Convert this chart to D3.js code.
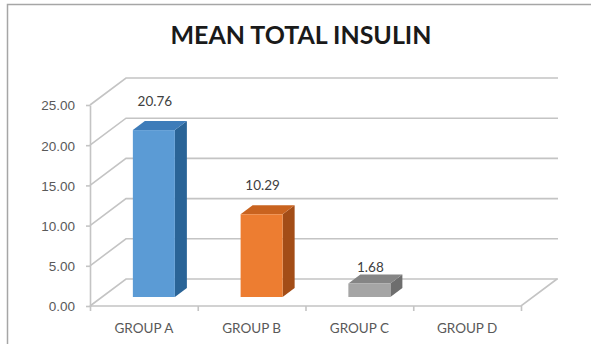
<!DOCTYPE html>
<html><head><meta charset="utf-8">
<script src="https://cdn.jsdelivr.net/npm/d3@7"></script>
<style>
html,body{margin:0;padding:0;background:#fff;}
svg{display:block;font-family:Lato,"Open Sans",sans-serif;}
</style></head>
<body><svg id="c" width="591" height="344"></svg>
<script>
const title = "MEAN TOTAL INSULIN";
const categories = ["GROUP A","GROUP B","GROUP C","GROUP D"];
const values = [20.76, 10.29, 1.68, null];
const valueLabels = ["20.76","10.29","1.68",""];
const yTicks = [0,5,10,15,20,25];
const frontColors = ["#5B9BD5","#ED7D31","#A5A5A5","#FFC000"];
const topColors   = ["#3E7CB9","#C9631F","#858585","#C99A00"];
const sideColors  = ["#2A6497","#A34D17","#6E6E6E","#9E7800"];

const svg = d3.select("#c");
// frame
svg.append("rect").attr("x",7.5).attr("y",4.5).attr("width",600).attr("height",400)
  .attr("fill","#fff").attr("stroke","#a6a6a6").attr("stroke-width",1.5);

// projection
const DX = 36, DY = -27;            // full depth offset
const y = d3.scaleLinear().domain([0,25]).range([306,105]);
const x = d3.scaleBand().domain(categories).range([90,521]).padding(0);
const xEdge = d3.scaleLinear().domain([0,categories.length]).range([90,521]);

const grid = svg.append("g").attr("fill","none").attr("stroke","#c4c4c4").attr("stroke-width",1.6);
yTicks.forEach(v=>{
  const y0 = y(v);
  grid.append("path").attr("d",`M${x.range()[0]},${y0}L${x.range()[0]+DX},${y0+DY}L${x.range()[1]+DX+1},${y0+DY}`);
});
// floor
grid.append("path").attr("d",`M${x.range()[0]},${y(0)}L${x.range()[1]},${y(0)}L${x.range()[1]+DX},${y(0)+DY}`);

// value axis
const ya = svg.append("g").attr("transform","translate(90,0)")
  .call(d3.axisLeft(y).tickValues(yTicks).tickFormat(d3.format(".2f")).tickSize(4).tickPadding(11).tickSizeOuter(0));
ya.select(".domain").attr("stroke","#c4c4c4").attr("stroke-width",1.6);
ya.selectAll(".tick line").attr("stroke","#c4c4c4").attr("stroke-width",1.6);
ya.selectAll(".tick text").attr("fill","#595959").attr("font-size",13.5).attr("dy","0.36em");

// category axis ticks
const xa = svg.append("g").attr("transform",`translate(0,${y(0)})`)
  .call(d3.axisBottom(xEdge).tickValues(d3.range(categories.length+1)).tickFormat("").tickSize(5).tickSizeOuter(0));
xa.select(".domain").remove();
xa.selectAll(".tick line").attr("stroke","#c4c4c4").attr("stroke-width",1.6);

// category labels
svg.append("g").selectAll("text").data(categories).join("text")
  .attr("x",d=>x(d)+x.bandwidth()/2).attr("y",333)
  .attr("text-anchor","middle").attr("font-size",13.5).attr("fill","#595959")
  .text(d=>d);

// bars
const bw = x.bandwidth()*0.39;
const f0 = 1/3, f1 = 2/3;
const bars = svg.append("g");
categories.forEach((c,i)=>{
  const v = values[i];
  if (v==null) return;
  const cx = x(c)+x.bandwidth()/2 - 2;
  const xl = cx - bw/2 + DX*f0, xr = cx + bw/2 + DX*f0;
  const yb = y(0) + DY*f0, yt = y(v) + DY*f0;
  const ddx = DX*(f1-f0), ddy = DY*(f1-f0);
  bars.append("path").attr("fill",sideColors[i])
    .attr("d",`M${xr},${yb}L${xr+ddx},${yb+ddy}L${xr+ddx},${yt+ddy}L${xr},${yt}Z`);
  bars.append("path").attr("fill",topColors[i])
    .attr("d",`M${xl},${yt}L${xr},${yt}L${xr+ddx},${yt+ddy}L${xl+ddx},${yt+ddy}Z`);
  bars.append("rect").attr("fill",frontColors[i])
    .attr("x",xl).attr("y",yt).attr("width",xr-xl).attr("height",yb-yt);
  const off = v < 5 ? 16 : 29;
  bars.append("text").attr("x",(xl+xr)/2+1).attr("y",yt-off).attr("dy","0.36em")
    .attr("text-anchor","middle").attr("font-size",13.5).attr("fill","#404040")
    .text(valueLabels[i]);
});

// title
svg.append("text").attr("x",301).attr("y",44).attr("text-anchor","middle")
  .attr("font-size",25).attr("font-weight","bold").attr("fill","#1a1a1a")
  .attr("textLength",261).attr("lengthAdjust","spacingAndGlyphs")
  .text(title);
</script></body></html>
